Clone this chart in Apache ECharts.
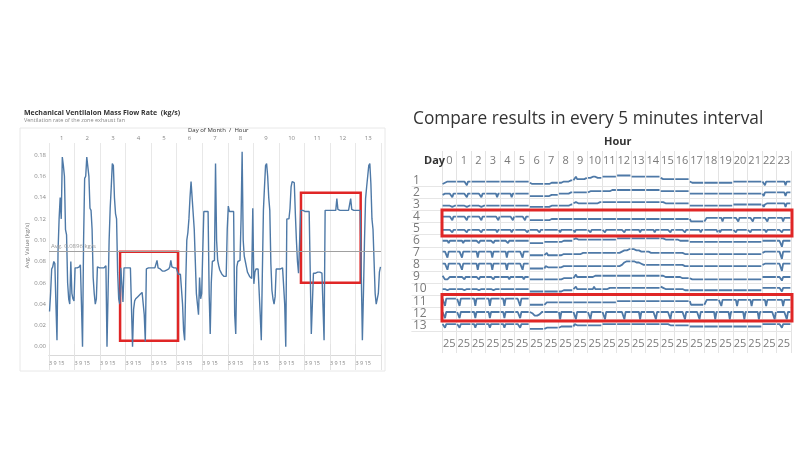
<!DOCTYPE html>
<html><head><meta charset="utf-8">
<script src="https://cdn.jsdelivr.net/npm/echarts@6/dist/echarts.min.js"></script>
<style>html,body{margin:0;padding:0;background:#fff}#c{width:800px;height:450px}</style>
</head><body><div id="c"></div><script>
// ---------- LEFT PANEL: hourly avg mass flow rate (kg/s), one array per day (24 hours) ----------
const dayLabels = ['1','2','3','4','5','6','7','8','9','10','11','12','13'];
const hourGroupLabel = '3 9 15';
const yTickLabels = ['0.00','0.02','0.04','0.06','0.08','0.10','0.12','0.14','0.16','0.18'];
const avgValue = 0.0896;
const flowD1  = [0.033,0.05,0.073,0.075,0.08,0.078,0.04,0.006,0.09,0.12,0.14,0.12,0.178,0.17,0.16,0.11,0.105,0.06,0.045,0.04,0.08,0.05,0.045,0.043];
const flowD2  = [0.074,0.074,0.074,0.074,0.075,0.077,0.04,0.0,0.1,0.158,0.16,0.178,0.177,0.16,0.13,0.128,0.11,0.065,0.05,0.04,0.045,0.075,0.074,0.074];
const flowD3  = [0.074,0.074,0.074,0.074,0.074,0.076,0.0,0.05,0.1,0.13,0.15,0.172,0.17,0.14,0.125,0.12,0.07,0.045,0.04,0.074,0.074,0.042,0.074,0.074];
const flowD4  = [0.074,0.074,0.074,0.074,0.074,0.074,0.0,0.035,0.043,0.045,0.046,0.047,0.048,0.049,0.05,0.051,0.052,0.03,0.005,0.073,0.074,0.074,0.074,0.074];
const flowD5  = [0.074,0.074,0.074,0.074,0.075,0.081,0.074,0.073,0.073,0.072,0.071,0.071,0.071,0.071,0.072,0.072,0.073,0.075,0.081,0.075,0.074,0.074,0.074,0.074];
const flowD6  = [0.074,0.068,0.068,0.068,0.068,0.04,0.015,0.006,0.06,0.1,0.107,0.12,0.14,0.155,0.14,0.125,0.11,0.08,0.05,0.04,0.03,0.065,0.045,0.05];
const flowD7  = [0.09,0.127,0.127,0.127,0.127,0.127,0.05,0.012,0.06,0.08,0.08,0.081,0.172,0.1,0.081,0.076,0.072,0.07,0.068,0.067,0.066,0.066,0.066,0.11];
const flowD8  = [0.132,0.127,0.127,0.127,0.127,0.127,0.03,0.012,0.075,0.08,0.081,0.081,0.12,0.183,0.1,0.085,0.08,0.075,0.07,0.068,0.066,0.065,0.064,0.13];
const flowD9  = [0.059,0.07,0.073,0.073,0.073,0.073,0.03,0.006,0.07,0.128,0.15,0.17,0.172,0.16,0.14,0.128,0.078,0.053,0.045,0.04,0.047,0.073,0.073,0.073];
const flowD10 = [0.073,0.073,0.074,0.074,0.074,0.04,0.0,0.12,0.12,0.12,0.13,0.15,0.155,0.155,0.154,0.125,0.1,0.08,0.069,0.068,0.128,0.128,0.128,0.128];
const flowD11 = [0.127,0.127,0.127,0.127,0.127,0.127,0.012,0.04,0.069,0.069,0.069,0.07,0.07,0.07,0.07,0.07,0.069,0.068,0.006,0.128,0.128,0.128,0.128,0.128];
const flowD12 = [0.128,0.128,0.128,0.128,0.128,0.128,0.139,0.129,0.128,0.128,0.128,0.128,0.128,0.128,0.128,0.128,0.128,0.128,0.128,0.139,0.129,0.128,0.128,0.128];
const flowD13 = [0.128,0.128,0.128,0.128,0.128,0.128,0.006,0.05,0.1,0.139,0.15,0.16,0.17,0.172,0.153,0.12,0.11,0.08,0.05,0.04,0.045,0.05,0.07,0.075];
const flowDays = [flowD1,flowD2,flowD3,flowD4,flowD5,flowD6,flowD7,flowD8,flowD9,flowD10,flowD11,flowD12,flowD13];
// highlighted regions (x in hours from start of day 1, y in kg/s)
const leftBoxes = [[66.8,0.0056,121.3,0.0892],[236.8,0.0601,292.9,0.1446]];

// ---------- RIGHT PANEL: 5-minute readings, per day, 24 hours x 12 samples (relative level 0..10 in row) ----------
const hourLabels = ['0','1','2','3','4','5','6','7','8','9','10','11','12','13','14','15','16','17','18','19','20','21','22','23'];
const minuteTickLabel = '25';
const cmpD1 = ['233344444444','444444441444','444444444444','444444444444','444444444444','444444444444','322222222222','222222333333','333444444555','558666666667','777789877777','888888888888','999999999999','888888888888','888888888888','776666666666','666666666666','433333333333','333333333333','333333333333','444444444444','444444444444','441444444444','444444414444'];
const cmpD2 = ['344444441444','444444441444','444444441444','444444444144','444444444144','444444444444','222222222222','222222333333','444444444555','555555555555','556666666666','666666667777','777777777777','777777777777','777777777777','656666666666','666666666666','444444444444','444444444444','444444444444','444444444444','444444444444','425555555555','555555525555'];
const cmpD3 = ['444444443444','444444443444','444444443444','444444444344','444444444344','444444444444','333333333333','333333444444','444444444555','667666666666','666666666777','777777777777','777777777777','777777777777','777777777777','787666666666','666666666666','444444444444','444444444444','444444444444','555555555555','555555555555','535666666666','666666636666'];
const cmpD4 = ['555555552555','555555552555','555555552555','555555555525','555555555525','555555552555','222222222222','222222333333','333333333333','333333333333','333333333333','333333333333','333333333333','333333333333','333333333333','333333333333','333333333333','311111111111','114444444444','444144444444','444414444444','444414444444','444414444444','444441444444'];
const cmpD5 = ['444444442444','444444442444','444444442444','444444444244','444444444244','444444444424','444444442444','444444444444','424444444444','424444444444','442444444444','442444444444','444444244444','444444424444','444444424444','444444442444','444444442444','444444444244','444444444442','424444444444','442444444444','442444444444','444244444444','444424444444'];
const cmpD6 = ['555553555555','555553555555','555555355555','555555355555','555555355555','555555555555','333333333333','444444444444','444455555555','667666666666','666667666666','666666666666','777777777777','777777777777','777777777777','787666666666','666655555555','444444444444','444444444444','444444444444','444444444444','444444444444','555555555555','555505555555'];
const cmpD7 = ['666616666666','666616666666','666661666666','666661666666','666661666666','666666166666','333333333333','345333333333','333344444444','444444455555','555555555555','555555555555','555666777888','888877766666','666655555555','555555555555','555555544444','444444444444','444444444444','444444444444','444444444444','444444444444','566666666666','666606666666'];
const cmpD8 = ['666616666666','666616666666','666661666666','666661666666','666661666666','666666166666','222222222222','244333333333','333344444444','444444444444','444444444444','444444444444','444556778888','888877766655','555555555555','555555555555','555555544444','444444444444','444444444444','444444444444','444444444444','444444444444','566666666666','666606666666'];
const cmpD9 = ['653234555555','555555355555','555555355555','555555355555','555555535555','555555535555','333333333333','333333333333','333344444444','447555555555','555555666666','666666666666','666666666666','666666666666','666666666666','676555555555','555555444444','433333333333','333333333333','333333333333','333333333333','333333333333','555555555555','555525555555'];
const cmpD10 = ['555545555555','555555455555','555555455555','555555455555','555555545555','555555555555','333333333333','333333333333','333444444444','557555555555','555557555555','555555666666','666666666666','666666666666','666666666666','776555555555','555555544444','444444444444','444444444444','444444444444','444444444444','444444444444','666666666666','666636666666'];
const cmpD11 = ['771777777777','771777777777','777177777777','777177777777','777177777777','777717777777','222222222222','224444444444','444444444444','444444444444','444444444444','444444444444','555555555555','555555555555','555555555555','555555555555','555555555555','522222222222','226666666666','661666666666','666166666666','666166666666','666166666666','666661666666'];
const cmpD12 = ['661666666666','661666666666','666166666666','666166666666','666166666666','666616666666','655433334566','666666666666','606666666666','660666666666','660666666666','660666666666','666666066666','666666606666','666666660666','666666660666','666666660666','666666660666','666666666066','666666666066','666666666066','666666666066','666666666606','666666660666'];
const cmpD13 = ['663666666666','663666666666','666366666666','666366666666','666366666666','666636666666','222222222222','233333333333','344444444444','465555555555','555555555555','656565666666','666666666666','666666666666','666666666666','666666655555','555555555555','444444444444','444444444444','444444444444','444444444444','444444444444','666666666666','666636666666'];
const cmpDays = [cmpD1,cmpD2,cmpD3,cmpD4,cmpD5,cmpD6,cmpD7,cmpD8,cmpD9,cmpD10,cmpD11,cmpD12,cmpD13];

// ---------- build ----------
const BLUE = '#4e79a7', RED = '#e02626', GRAY = '#888';
const FF = 'Open Sans, Noto Sans, sans-serif';

const flowPoints = [];
flowDays.forEach((arr, d) => arr.forEach((v, h) => flowPoints.push([d * 24 + h + 0.5, v])));

function rowPoints(tokens) {
  const pts = [];
  tokens.forEach((tok, h) => {
    const n = tok.length;
    for (let i = 0; i < n; i++) pts.push([h * 60 + (i + 0.5) * 60 / n, Number(tok[i])]);
    pts.push([h * 60 + 59.9, '-']);
  });
  return pts;
}

const grid = [], xAxis = [], yAxis = [], series = [];

// Left frame grid (day panes)
grid.push({left: 49, right: 419, top: 143, bottom: 95});
xAxis.push({gridIndex: 0, type: 'category', position: 'top', data: dayLabels, boundaryGap: true,
  axisLine: {show: true, lineStyle: {color: '#d9d9d9'}},
  axisTick: {show: true, length: 11, lineStyle: {color: '#e3e3e3'}},
  axisLabel: {fontSize: 6, color: GRAY, margin: 2, fontFamily: FF, interval: 0},
  splitLine: {show: true, lineStyle: {color: '#e8e8e8'}}});
xAxis.push({gridIndex: 0, type: 'value', position: 'bottom', min: 0, max: 13, interval: 1,
  axisLine: {show: true, lineStyle: {color: '#d9d9d9'}},
  axisTick: {show: true, length: 15, lineStyle: {color: '#e3e3e3'}},
  axisLabel: {fontSize: 5.5, color: GRAY, margin: 5, align: 'left', fontFamily: FF,
    formatter: v => (v < dayLabels.length ? hourGroupLabel : '')},
  splitLine: {show: false}});
yAxis.push({gridIndex: 0, type: 'value', min: 0, max: 1, show: false});

// Left line grid
grid.push({left: 49, right: 419, top: 144.35, bottom: 103.3});
xAxis.push({gridIndex: 1, type: 'value', min: 0, max: dayLabels.length * 24, show: false});
yAxis.push({gridIndex: 1, type: 'value', min: 0, max: 0.19, interval: 0.02,
  axisLine: {show: false}, axisTick: {show: false}, splitLine: {show: false},
  axisLabel: {fontSize: 6, color: GRAY, margin: 3, fontFamily: FF, showMaxLabel: false,
    formatter: v => { const i = Math.round(v / 0.02); return i < yTickLabels.length ? yTickLabels[i] : ''; }},
  name: 'Avg. Value (kg/s)', nameLocation: 'middle', nameRotate: 90, nameGap: 16,
  nameTextStyle: {fontSize: 6, color: '#777', fontFamily: FF}});
series.push({type: 'line', xAxisIndex: 2, yAxisIndex: 1, data: flowPoints, symbol: 'none',
  lineStyle: {color: BLUE, width: 1.4}, silent: true, z: 3,
  markLine: {silent: true, symbol: 'none', data: [{yAxis: avgValue}],
    lineStyle: {color: '#a0a0a0', width: 1, type: 'solid'},
    label: {show: true, position: 'insideStartTop', distance: 2, fontSize: 6, color: '#999', fontFamily: FF,
      formatter: 'Avg. ' + avgValue + ' kg/s'}},
  markArea: {silent: true, itemStyle: {color: 'rgba(0,0,0,0)', borderColor: RED, borderWidth: 2.5},
    data: leftBoxes.map(b => [{coord: [b[0], b[1]]}, {coord: [b[2], b[3]]}])}});

// Left outer frame
grid.push({left: 20, top: 128, width: 365, height: 243, show: true, borderColor: '#e8e8e8', borderWidth: 1});
xAxis.push({gridIndex: 2, type: 'value', show: false, min: 0, max: 1});
yAxis.push({gridIndex: 2, type: 'value', show: false, min: 0, max: 1});

// Right frame grid (hour columns)
grid.push({left: 442, right: 9, top: 151, bottom: 97});
xAxis.push({gridIndex: 3, type: 'category', position: 'top', data: hourLabels, boundaryGap: true,
  axisLine: {show: false}, axisTick: {show: false},
  axisLabel: {inside: true, margin: 4, fontSize: 11, color: '#7a7a7a', fontFamily: FF, interval: 0},
  splitLine: {show: true, interval: 0, lineStyle: {color: '#e3e3e3'}}});
xAxis.push({gridIndex: 3, type: 'category', position: 'bottom', data: hourLabels, boundaryGap: true,
  axisLine: {show: false}, axisTick: {show: false}, splitLine: {show: false},
  axisLabel: {inside: true, margin: 4, fontSize: 11, color: '#7a7a7a', fontFamily: FF, interval: 0,
    formatter: () => minuteTickLabel}});
yAxis.push({gridIndex: 3, type: 'value', min: 0, max: 1, show: false});

// Right rows
const rowTop0 = 174.3, rowH = 12.08, colLeft = 442, labelLeft = 412, colW = 349;
const minPerPx = 1440 / colW;
cmpDays.forEach((tokens, k) => {
  const gi = grid.length;
  grid.push({left: labelLeft, right: 9, top: rowTop0 + k * rowH, height: rowH});
  const xi = xAxis.length;
  xAxis.push({gridIndex: gi, type: 'value', position: 'top', min: -(colLeft - labelLeft) * minPerPx, max: 1440,
    axisLine: {show: true, lineStyle: {color: '#e6e6e6'}}, axisTick: {show: false}, axisLabel: {show: false}, splitLine: {show: false}});
  if (k === cmpDays.length - 1) {
    xAxis.push({gridIndex: gi, type: 'value', position: 'bottom', min: 0, max: 1,
      axisLine: {show: true, lineStyle: {color: '#e6e6e6'}}, axisTick: {show: false}, axisLabel: {show: false}, splitLine: {show: false}});
  }
  const yi = yAxis.length;
  yAxis.push({gridIndex: gi, type: 'value', position: 'right', min: 0, max: 10, show: false});
  yAxis.push({gridIndex: gi, type: 'category', position: 'left', data: [dayLabels[k]],
    axisLine: {show: false}, axisTick: {show: false}, splitLine: {show: false},
    axisLabel: {inside: true, margin: 1, fontSize: 12, color: '#7a7a7a', fontFamily: FF}});
  series.push({type: 'line', xAxisIndex: xi, yAxisIndex: yi, data: rowPoints(tokens), symbol: 'none',
    silent: true, lineStyle: {color: BLUE, width: 1.8}, connectNulls: false});
});

const option = {
  animation: false,
  backgroundColor: '#fff',
  title: [
    {text: 'Mechanical Ventilaion Mass Flow Rate  (kg/s)', left: 24, top: 109, padding: 0,
      textStyle: {fontSize: 7, fontWeight: 'bold', color: '#333', fontFamily: FF}},
    {text: 'Ventilation rate of the zone exhaust fan', left: 24, top: 117.5, padding: 0,
      textStyle: {fontSize: 5.5, fontWeight: 'normal', color: '#888', fontFamily: FF}},
    {text: 'Day of Month  /  Hour', left: 188, top: 127, padding: 0,
      textStyle: {fontSize: 6, fontWeight: 'normal', color: '#333', fontFamily: FF}},
    {text: 'Compare results in every 5 minutes interval', left: 413, top: 111, padding: 0,
      textStyle: {fontSize: 17.3, fontWeight: 'normal', color: '#333', fontFamily: FF}},
    {text: 'Hour', left: 604, top: 136, padding: 0,
      textStyle: {fontSize: 11, fontWeight: 'bold', color: '#333', fontFamily: FF}},
    {text: 'Day', left: 424, top: 155, padding: 0,
      textStyle: {fontSize: 11, fontWeight: 'bold', color: '#333', fontFamily: FF}}
  ],
  grid, xAxis, yAxis, series,
  graphic: [
    {type: 'rect', shape: {x: 442, y: 210, width: 350, height: 26}, style: {fill: 'none', stroke: RED, lineWidth: 3}, z: 100},
    {type: 'rect', shape: {x: 442, y: 294.5, width: 350, height: 26.5}, style: {fill: 'none', stroke: RED, lineWidth: 3}, z: 100}
  ]
};
const chart = echarts.init(document.getElementById('c'), null, {renderer: 'canvas'});
chart.setOption(option);
</script></body></html>
